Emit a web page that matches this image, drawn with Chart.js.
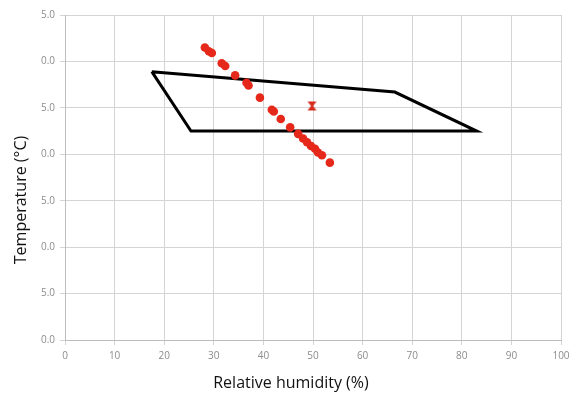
<!DOCTYPE html>
<html>
<head>
<meta charset="utf-8">
<script src="https://cdn.jsdelivr.net/npm/chart.js@4"></script>
<style>
  html, body { margin: 0; padding: 0; background: #fff; }
  #wrap { width: 583px; height: 397px; }
</style>
</head>
<body>
<div id="wrap"><canvas id="chart" width="583" height="397"></canvas></div>
<script>
// measured points: relative humidity (%) vs temperature (°C)
const measRH   = [28.2, 29.0, 29.6, 31.6, 32.3, 34.3, 36.6, 37.0, 39.3, 41.7, 42.1, 43.5, 45.4, 47.0, 48.0, 48.8, 49.6, 50.4, 51.0, 51.8, 53.4];
const measTemp = [31.5, 31.1, 30.9, 29.8, 29.5, 28.5, 27.7, 27.4, 26.1, 24.8, 24.6, 23.8, 22.9, 22.2, 21.7, 21.3, 20.9, 20.6, 20.2, 19.9, 19.1];

// comfort zone outline (closed)
const zoneRH   = [17.5, 66.5, 83.0, 25.4, 17.5];
const zoneTemp = [28.9, 26.7, 22.5, 22.5, 28.9];

// single target point
const targetRH = [49.8];
const targetTemp = [25.2];

const xTicks = [0, 10, 20, 30, 40, 50, 60, 70, 80, 90, 100];
const yTickLabels = ['0.0', '5.0', '0.0', '5.0', '0.0', '5.0', '0.0', '5.0'];

const xTitle = 'Relative humidity (%)';
const yTitle = 'Temperature (°C)';

const toXY = (xs, ys) => xs.map((x, i) => ({ x, y: ys[i] }));

const red = '#e6281b';
const tickColor = '#8c8c8c';
const gridColor = '#d4d4d4';

// hourglass-shaped marker for the target point
function hourglass() {
  const c = document.createElement('canvas');
  c.width = 11; c.height = 11;
  const g = c.getContext('2d');
  g.fillStyle = '#d62a1c';
  g.beginPath();
  g.moveTo(1, 1); g.lineTo(10, 1); g.lineTo(6.5, 5.5);
  g.lineTo(10, 10); g.lineTo(1, 10); g.lineTo(4.5, 5.5);
  g.closePath();
  g.fill();
  return c;
}

// axis titles centred on the whole canvas
const axisTitles = {
  id: 'axisTitles',
  afterDraw(chart) {
    const ctx = chart.ctx;
    ctx.save();
    ctx.fillStyle = '#111';
    ctx.font = '16px "Open Sans"';
    ctx.textAlign = 'center';
    ctx.textBaseline = 'middle';
    ctx.fillText(xTitle, 291, 383);
    ctx.translate(21, 200);
    ctx.rotate(-Math.PI / 2);
    ctx.fillText(yTitle, 0, 0);
    ctx.restore();
  },
};

new Chart(document.getElementById('chart'), {
  type: 'scatter',
  data: {
    datasets: [
      {
        label: 'Measured',
        data: toXY(measRH, measTemp),
        backgroundColor: red,
        borderColor: red,
        pointRadius: 4.3,
        borderWidth: 0,
        order: 0,
      },
      {
        label: 'Target',
        data: toXY(targetRH, targetTemp),
        pointStyle: hourglass(),
        order: 0,
      },
      {
        label: 'Zone',
        data: toXY(zoneRH, zoneTemp),
        showLine: true,
        borderColor: '#000',
        borderWidth: 3,
        pointRadius: 0,
        fill: false,
        tension: 0,
        order: 1,
      },
    ],
  },
  plugins: [axisTitles],
  options: {
    responsive: false,
    animation: false,
    layout: { padding: { top: 15, right: 22, bottom: 4, left: 6 } },
    plugins: {
      legend: { display: false },
      tooltip: { enabled: false },
    },
    scales: {
      x: {
        type: 'linear',
        min: 0,
        max: 100,
        afterBuildTicks: s => { s.ticks = xTicks.map(v => ({ value: v })); },
        grid: { color: gridColor, tickLength: 5, lineWidth: 1 },
        border: { color: '#bdbdbd' },
        ticks: { color: tickColor, font: { family: 'Open Sans', size: 10 }, padding: 5, maxRotation: 0 },
        afterFit: s => { s.height = 53; },
      },
      y: {
        type: 'linear',
        min: 0,
        max: 35,
        afterBuildTicks: s => { s.ticks = yTickLabels.map((_, i) => ({ value: i * 5 })); },
        grid: { color: gridColor, tickLength: 5, lineWidth: 1 },
        border: { color: '#bdbdbd' },
        ticks: {
          color: tickColor,
          font: { family: 'Open Sans', size: 10 },
          padding: 5,
          callback: (v, i) => yTickLabels[i],
        },
        afterFit: s => { s.width = 59; },
      },
    },
  },
});
</script>
</body>
</html>
